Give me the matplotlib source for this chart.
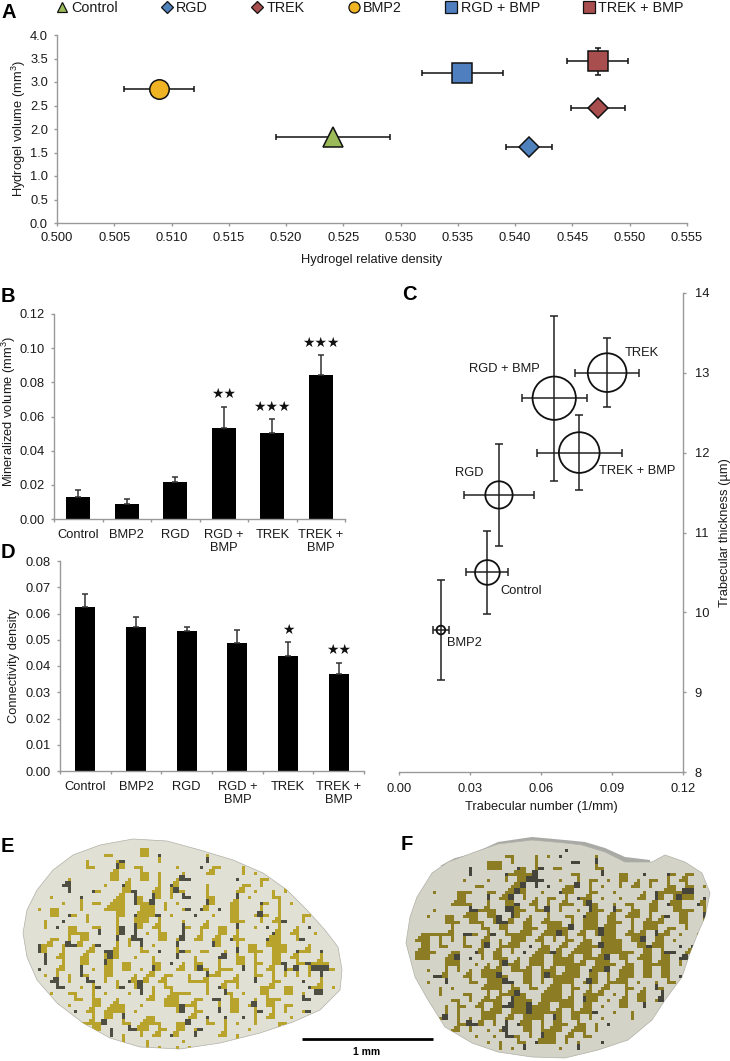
import matplotlib
matplotlib.use("Agg")
import matplotlib.pyplot as plt
from matplotlib.lines import Line2D
from matplotlib.patches import Polygon
from matplotlib.colors import ListedColormap
import numpy as np

plt.rcParams['font.family'] = ['Liberation Sans', 'DejaVu Sans']
plt.rcParams['mathtext.default'] = 'regular'

W, H = 730, 1061
GREY = '#999999'
TXT = '#1a1a1a'

# panel A
a_names = ['Control', 'RGD', 'TREK', 'BMP2', 'RGD + BMP', 'TREK + BMP']
a_density = [0.5241, 0.5412, 0.5472, 0.5089, 0.5354, 0.5472]
a_density_err = [0.0050, 0.0020, 0.00235, 0.00306, 0.00357, 0.00265]
a_volume = [1.84, 1.61, 2.44, 2.85, 3.20, 3.44]
a_volume_err = [0.10, 0.08, 0.12, 0.10, 0.15, 0.29]
a_markers = ['^', 'D', 'D', 'o', 's', 's']
a_colors = ['#9BBB59', '#4F81BD', '#A84E4E', '#F0B323', '#4F7FBE', '#A84E4E']
a_sizes = [14.5, 10.2, 10.2, 14, 13.8, 13.8]
a_legend_sizes = [7.5, 6, 6, 8, 8.5, 8.5]
a_xticks = [0.500, 0.505, 0.510, 0.515, 0.520, 0.525, 0.530, 0.535, 0.540, 0.545, 0.550, 0.555]
a_yticks = [0.0, 0.5, 1.0, 1.5, 2.0, 2.5, 3.0, 3.5, 4.0]

# panels B and D
groups = ['Control', 'BMP2', 'RGD', 'RGD +\nBMP', 'TREK', 'TREK +\nBMP']
b_values = [0.0131, 0.0090, 0.0215, 0.0535, 0.0505, 0.0843]
b_err = [0.0041, 0.0029, 0.0031, 0.0121, 0.0078, 0.0115]
b_stars = ['', '', '', '★★', '★★★', '★★★']
b_yticks = [0.00, 0.02, 0.04, 0.06, 0.08, 0.10, 0.12]
d_values = [0.0626, 0.0550, 0.0533, 0.0489, 0.0437, 0.0371]
d_err = [0.0047, 0.0038, 0.0016, 0.0049, 0.0053, 0.0042]
d_stars = ['', '', '', '', '★', '★★']
d_yticks = [0.00, 0.01, 0.02, 0.03, 0.04, 0.05, 0.06, 0.07, 0.08]

# panel C
c_names = ['Control', 'BMP2', 'RGD', 'RGD + BMP', 'TREK', 'TREK + BMP']
c_number = [0.0373, 0.0176, 0.0422, 0.0656, 0.0880, 0.0762]
c_number_err = [0.0089, 0.0034, 0.0149, 0.0137, 0.01355, 0.0180]
c_thick = [10.50, 9.78, 11.47, 12.68, 13.00, 12.00]
c_thick_err = [0.52, 0.62, 0.633, 1.03, 0.43, 0.47]
c_bubble = [24.7, 8.7, 27.3, 43.3, 38.7, 40.7]
c_label_x = [0.0515, 0.0275, 0.0296, 0.0446, 0.1026, 0.1009]
c_label_y = [10.27, 9.62, 11.74, 13.05, 13.25, 11.77]
c_xticks = [0.00, 0.03, 0.06, 0.09, 0.12]
c_yticks = [8, 9, 10, 11, 12, 13, 14]

# sections E and F, outline in page pixels, pattern by 6 px cell
e_outline = [(23, 933), (27, 910), (37, 890), (53, 870), (73, 855), (100, 845), (133, 839), (167, 841),
             (200, 850), (233, 860), (263, 873), (287, 890), (307, 910), (325, 930), (338, 947), (342, 970),
             (340, 990), (320, 1010), (293, 1022), (260, 1033), (220, 1043), (180, 1049), (140, 1047),
             (110, 1038), (83, 1023), (57, 1003), (37, 980), (27, 957)]
f_outline = [(406, 943), (410, 917), (417, 897), (432, 873), (448, 862), (475, 852), (498, 844), (532, 840),
             (565, 843), (582, 845), (605, 852), (625, 862), (652, 862), (665, 855), (685, 862), (702, 873),
             (710, 893), (705, 917), (698, 933), (690, 953), (682, 977), (665, 1000), (652, 1020),
             (628, 1040), (598, 1050), (565, 1058), (532, 1057), (498, 1052), (472, 1043), (445, 1027),
             (428, 1000), (415, 977)]
f_rim = [(440, 866), (455, 858), (472, 854), (498, 842), (532, 837), (565, 840), (585, 842), (605, 848),
         (625, 857), (650, 860), (650, 864), (625, 866), (605, 858), (585, 853), (565, 848), (532, 846),
         (498, 850), (472, 860), (455, 866)]
e_origin = (23, 839)
e_rows = [
    ".....................................................",
    "...................gg...............................",
    ".............gg....gg.d.......g.....................",
    "..........g....gd.....g.......d.....................",
    "..........gg...dg.gg.....g...d.gg...g...............",
    "..............gg...gg.g...g...gg....g.g.............",
    ".......g......gg.g.gg.g..gdd.......d...gg...........",
    "......dd.....g..dg....g.dg....g.....gg.g...g........",
    ".......d...dg...ggd..gg.gdg...g....gg.g..g.g.gg.....",
    "....g....d.....gg.dg.dg.g.dd..gg...d.g...gg....g....",
    "......g..g.gg.ggg.dggd.g.g....dg..gg...dg.g.g..g....",
    "..g.gg...g...gggg..ggg.g..gd.dg.d.gg...g..g.....g...",
    "....gg.dg.g....gg.dgggd.g...d..g..gg..gdg.g...gg.g..",
    "...g..d...g....g..ggg.g...g...g...ggg..g.ggd..g.....",
    "...g.d.gg..gg..gd.dg.gg...dg.gg.gg.d..g.d.g..g.d....",
    ".......gggg.d..gd.d.g.gg..d..g..gg.g.....dg.gg..g...",
    "....gg.g.gg....d.gdd..gg.gd.gg.gg.dgg...dgg..gd.....",
    "..dgg.gddg.gd..g.g.d.g...d.....dg..g.gg.gggg...g....",
    "..dg..g...gg.ddg...gg.d..gdg.gg..g.d.ggg.ggg.dgg.d..",
    "...d.gg..gg..gdg..g..g...d..g...dd.gg.g..gg.gg...g..",
    "...d..g..gg..dg.gg...gg.d.g.gg..g..gg.gg.ggd.ggdggg.",
    "..d..gg..d.g.gg.gg.g.dg..gg.gdg.ggg.d.g.gg.dgd.gdddg",
    "...g.g.g.dg..gg...g.gg.gg..g..dgg..g..gg.g.g.g.g.d..",
    "....dd.g..dd.g.g.dgdg.gg...gggg..ggg..d..gg...d..g..",
    ".....dd..g.gd..gd.gd.g.gg.....g.dg.g...ggg.gg..dgg.g",
    "....g..gg..g.g...g.d.g..gggg..g..dg.g..gg..gg.g.dd..",
    "........gg.gg..g....gg.ggg..gg.dd.gg..g.ggg...dd....",
    ".....d.g...gg.ggg..g...gggdgg...g.gg.gd.gg.gg.......",
    "......d.d.gg.gggg.g......gd.gg..d.gg..gd.g.g..gd....",
    "...........g.gg.d...gg.....gg.d..d..d.g.gg..g.......",
    ".........ggggd..gg.gggg..ggd..gg.g.g..g...gg........",
    "...........gg.d..ddgg.gg.gg.gd...g...g....g.........",
    "..............d.g..g.gg.dg..d...gg.g................",
    "................g...g.....g........g.g...............",
    "....................g.g..g.g.d.......................",
]
f_origin = (406, 840)
f_rows = [
    "...................................................",
    "..........................d.........................",
    "................gg...g.g.d.....g....................",
    ".............ggg.g...g.....dd..d....................",
    "..........d..ggg..dg.gd.gg.....gg...................",
    "...d......d.....dggggd.....gg...d..gg..d...dg.gg.gg.",
    ".........g...g..g.ggddd..g..g.gg.g.gg.g.gg.g.gg...g",
    "...........gg....ggd.d.d..ggd.g.g..g.gg.g..gg.gg.g.",
    "....g...ggg..gg.ggdg..g..dgg..gg..g....g.dggggdd...",
    "........gg...d.ggd.g.g.gg.g.dgg.g..g..gg.dg.gdgg.d.",
    ".......gggg..g..ggd.gg.g.ggg.gdg..g.gg..gg.dgg..dg.",
    "....g.....ddggg.ddgg.ggd.g..g.dgg.dg.gg.gg..gggg.g.",
    "...g..gg.ggg.ggd.dg.g..g..gg.dgg.gg.ggg.g.gd.gg..d.",
    "......ggg.ggg.gddg.gg.gggg.g.ggg.ggg.g.gggg..gg..g.",
    ".......g....gg.gg..ggg.ggggd.gggdgg..g.ggg.gg.g..d.",
    "..gggggg.ddg.gd.ggggg.gggdg.gg.gdgg.gggg.dgg.g..g.g",
    ".ggg.g.g.g..gg.g.ggg.gg.g.gg.gg.gggg.ggd.gg.g.....",
    "..gg.gg..gg.gd.gggg.d.gg.gg.ggggdggg..ggdgg..d.d...",
    ".gggg..gg..dg.gg.g.d.gggdg.gggg.gggggg.gg.gdd.gg...",
    ".ggg..ggd.d.g.ggg.g.ggg.gggg.ggggd.gg.ggg.gg.dd....",
    "......ggg..g.g.gdgg.ggg.gggggg.gggg.gg.ggggg.g.....",
    "...g..g.g.g.gggg.gggg.ggg.ggg.dggd.ggg.gg.gg.......",
    "....ddg..gg.gggdg..gg.gdggggg.gg.g.ggg.gg.gg.d.....",
    "...g..d...gg.gggdd.gg.g.gggg.gdg.gggg.g..g.gg.g....",
    ".....g.g....gggg.gg.gg.ggg.gg.g.gg..gg.g.dg........",
    ".....g...gg..g.gggdg..gggg.g.gggg.g.g.gg..d........",
    ".......gg.g.gggg.dggg.gggggg.dgg.g.gg.gg.gd........",
    "......g.gg.gg.ggddggdggg.ggg.gg.g..gg..d...........",
    "......g.g...gggg.gggdggggg.ggggd..g..g.............",
    ".....gd.g.g.ggg.gg.gggg.dg.gg.g.g....g.............",
    "........ggddg.g.d.dgg.g.ggg.gg.g.d.................",
    ".......gg.g..g.gd..gg.gggg.ggg.g...................",
    "...........g..g.ddg.g.dgg.gg.gg....................",
    ".............g.g..gg.dggg.g.g...d...................",
    "...............g.g.d.....g..d.......................",
    "...................................................",
]


def px_axes(left, top, right, bottom):
    return fig.add_axes([left / W, 1 - bottom / H, (right - left) / W, (bottom - top) / H])


def style_axis(ax):
    for side in ['top', 'right']:
        ax.spines[side].set_visible(False)
    for side in ['left', 'bottom', 'right']:
        ax.spines[side].set_color(GREY)
        ax.spines[side].set_linewidth(1.0)
    ax.tick_params(which='both', color=GREY, width=1.0, length=2.5, labelsize=9.3, labelcolor=TXT, pad=4)


def bars(ax, values, err, stars, yticks, ymax, width, fmt='%.2f'):
    x = np.arange(len(values))
    ax.bar(x, values, width, color='black', yerr=[np.zeros(len(err)), err], ecolor='#333333',
           error_kw=dict(capsize=2.5, elinewidth=1.1, capthick=1.1))
    ax.set_xlim(-0.5, len(values) - 0.5)
    ax.set_ylim(0, ymax)
    ax.set_yticks(yticks)
    ax.set_yticklabels([fmt % t for t in yticks])
    ax.set_xticks(x)
    ax.set_xticklabels(groups, linespacing=1.1)
    ax.set_xticks(np.arange(len(values) + 1) - 0.5, minor=True)
    style_axis(ax)
    ax.tick_params(axis='x', which='major', length=0, pad=7.5)
    for i, s in enumerate(stars):
        if s:
            ax.annotate(s, (i, values[i] + err[i]), xytext=(0, 9.2), textcoords='offset points',
                        ha='center', va='center', fontsize=10, color='#111111', family='DejaVu Sans')


def section(ax, origin, rows, outline, fill, gold, dark):
    poly = Polygon(outline, closed=True, facecolor=fill, edgecolor='#b0b0a8', linewidth=0.5, zorder=2)
    ax.add_patch(poly)
    cols = max(len(r) for r in rows)
    grid = np.array([['.gd'.index(c) for c in r.ljust(cols, '.')] for r in rows])
    # every cell drawn as 3 px sub cells, shaved on one side so the blobs keep gaps
    fine = np.kron(grid, np.ones((2, 2), dtype=int))
    keep = (fine > 0) & (np.roll(fine, 1, axis=0) > 0) & (np.roll(fine, 1, axis=1) > 0)
    fine = np.where(keep, fine, 0)
    cmap = ListedColormap([(0, 0, 0, 0), gold, dark])
    im = ax.imshow(fine, cmap=cmap, vmin=0, vmax=2, interpolation='nearest', aspect='auto', zorder=3,
                   extent=(origin[0], origin[0] + 6 * cols, origin[1] + 6 * len(rows), origin[1]))
    im.set_clip_path(poly)


fig = plt.figure(figsize=(W / 100, H / 100), dpi=100)

# A
ax = px_axes(57, 35, 687, 223)
for i in range(len(a_names)):
    ax.errorbar(a_density[i], a_volume[i], xerr=a_density_err[i], yerr=a_volume_err[i], color='#111111',
                elinewidth=1.1, capsize=2.3, capthick=1.1, zorder=2, fmt='none')
    ax.plot(a_density[i], a_volume[i], a_markers[i], color=a_colors[i], markeredgecolor='#111111',
            markeredgewidth=1.1, markersize=a_sizes[i], zorder=3)
ax.set_xlim(0.5, 0.555)
ax.set_ylim(0, 4)
ax.set_xticks(a_xticks)
ax.set_xticklabels(['%.3f' % t for t in a_xticks])
ax.set_yticks(a_yticks)
ax.set_yticklabels(['%.1f' % t for t in a_yticks])
style_axis(ax)
ax.set_xlabel('Hydrogel relative density', fontsize=9.3, color=TXT, labelpad=7)
ax.set_ylabel('Hydrogel volume (mm$^3$)', fontsize=9.3, color=TXT, labelpad=1.5)
handles = [Line2D([], [], linestyle='none', marker=m, color=c, markeredgecolor='#111111', markeredgewidth=0.9,
                  markersize=s) for m, c, s in zip(a_markers, a_colors, a_legend_sizes)]
fig.legend(handles, a_names, ncols=6, frameon=False, fontsize=10.4, loc='center left',
           bbox_to_anchor=(56 / W, 1 - 8 / H), handlelength=0.8, handletextpad=0.25, columnspacing=3.0,
           borderpad=0, borderaxespad=0, labelcolor=TXT)

# B
ax = px_axes(54, 314, 345, 519)
bars(ax, b_values, b_err, b_stars, b_yticks, 0.12, 0.5)
ax.set_ylabel('Mineralized volume (mm$^3$)', fontsize=9.3, color=TXT, labelpad=1.5, y=0.527)

# D
ax = px_axes(60, 561, 364, 771)
bars(ax, d_values, d_err, d_stars, d_yticks, 0.08, 0.4)
ax.set_ylabel('Connectivity density', fontsize=9.3, color=TXT, labelpad=4)

# C
ax = px_axes(399.3, 292.7, 682.7, 772.3)
ax.errorbar(c_number, c_thick, xerr=c_number_err, yerr=c_thick_err, fmt='none', ecolor='#222222',
            elinewidth=1.1, capsize=2.6, capthick=1.1, zorder=2)
ax.scatter(c_number, c_thick, s=[(d * 0.72) ** 2 for d in c_bubble], facecolors='none', edgecolors='#111111',
           linewidths=1.3, zorder=3)
for i, name in enumerate(c_names):
    ax.text(c_label_x[i], c_label_y[i], name, fontsize=9.3, color=TXT, ha='center', va='center')
ax.set_xlim(0, 0.12)
ax.set_ylim(8, 14)
ax.set_xticks(c_xticks)
ax.set_xticklabels(['%.2f' % t for t in c_xticks])
ax.set_yticks(c_yticks)
ax.yaxis.tick_right()
ax.yaxis.set_label_position('right')
style_axis(ax)
ax.tick_params(axis='y', pad=6)
ax.tick_params(axis='x', pad=5)
ax.spines['left'].set_visible(False)
ax.spines['right'].set_visible(True)
ax.set_xlabel('Trabecular number (1/mm)', fontsize=9.3, color=TXT, labelpad=4.5)
ax.set_ylabel('Trabecular thickness (µm)', fontsize=9.3, color=TXT, labelpad=7)

# E, F
page = fig.add_axes([0, 0, 1, 1], zorder=-1)
section(page, e_origin, e_rows, e_outline, '#E0E0D4', '#B8A32C', '#4E4E42')
page.add_patch(Polygon(f_rim, closed=True, facecolor='#a9a9a6', edgecolor='none', zorder=1))
section(page, f_origin, f_rows, f_outline, '#D3D3C7', '#8C7D24', '#45453B')
page.set_xlim(0, W)
page.set_ylim(H, 0)
page.axis('off')
page.plot([302, 433], [1039, 1039], color='black', lw=2, solid_capstyle='butt', zorder=4)
page.text(367, 1052, '1 mm', fontsize=7.5, fontweight='bold', ha='center', va='center')

# panel letters
letters = ['A', 'B', 'C', 'D', 'E', 'F']
letter_x = [1, 1, 402, 1, 1, 401]
letter_y = [12, 296, 295, 553, 847, 845]
for s, x, y in zip(letters, letter_x, letter_y):
    fig.text(x / W, 1 - y / H, s, fontsize=14.5, fontweight='bold', ha='left', va='center', color='black')

fig.savefig('out.png', dpi=100)
